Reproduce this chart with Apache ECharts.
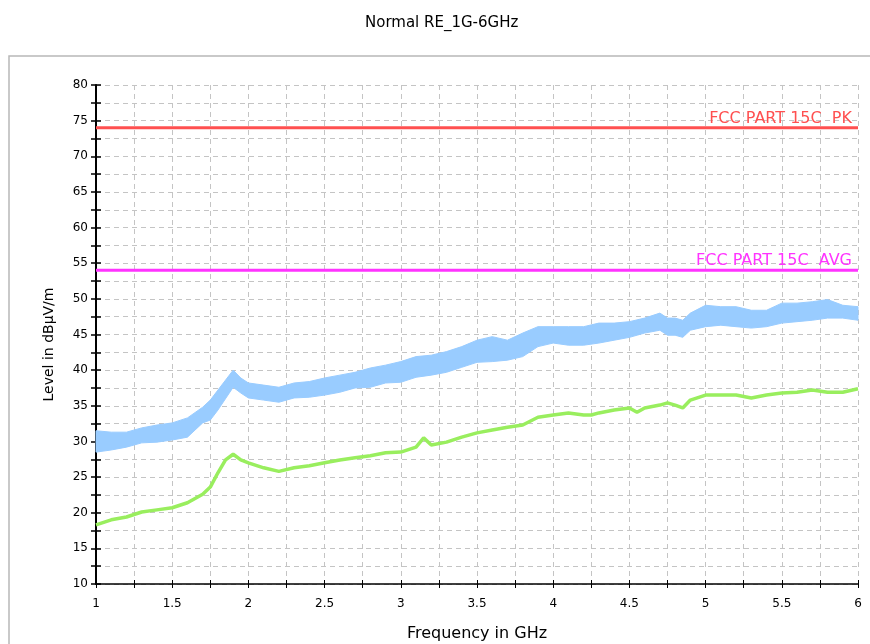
<!DOCTYPE html>
<html>
<head>
<meta charset="utf-8">
<script src="https://cdn.jsdelivr.net/npm/echarts@6/dist/echarts.min.js"></script>
<style>
  html, body { margin: 0; padding: 0; background: #fff; }
  #main { width: 870px; height: 644px; }
</style>
</head>
<body>
<div id="main"></div>
<script>
// peak trace (light blue) read as lower / upper edge of the noise band
var peakFreq = [1.0, 1.1, 1.2, 1.3, 1.4, 1.5, 1.6, 1.7, 1.75, 1.8, 1.9, 1.95, 2.0, 2.1, 2.2,
  2.3, 2.4, 2.5, 2.6, 2.7, 2.8, 2.9, 3.0, 3.1, 3.2, 3.3, 3.4, 3.5, 3.6, 3.7, 3.8, 3.9,
  4.0, 4.1, 4.2, 4.3, 4.4, 4.5, 4.6, 4.7, 4.75, 4.8, 4.85, 4.9, 5.0, 5.1, 5.2, 5.3,
  5.4, 5.5, 5.6, 5.7, 5.8, 5.9, 6.0];
var peakLow = [28.5, 28.8, 29.2, 29.8, 29.9, 30.2, 30.6, 32.6, 33.0, 34.4, 37.6, 36.8, 36.1, 35.8, 35.5,
  36.1, 36.2, 36.5, 36.9, 37.5, 37.6, 38.2, 38.3, 39.0, 39.3, 39.7, 40.4, 41.1, 41.2, 41.4, 41.9, 43.3,
  43.8, 43.5, 43.5, 43.8, 44.2, 44.6, 45.2, 45.6, 44.9, 44.9, 44.6, 45.6, 46.1, 46.3, 46.1, 45.9,
  46.1, 46.6, 46.8, 47.0, 47.3, 47.3, 47.0];
var peakHigh = [31.5, 31.3, 31.3, 31.9, 32.3, 32.6, 33.3, 34.8, 35.8, 37.2, 40.0, 38.9, 38.2, 37.9, 37.6,
  38.2, 38.4, 38.9, 39.3, 39.7, 40.3, 40.7, 41.2, 41.9, 42.1, 42.6, 43.3, 44.2, 44.7, 44.2, 45.2, 46.1,
  46.1, 46.1, 46.1, 46.6, 46.6, 46.8, 47.3, 48.0, 47.3, 47.3, 47.0, 48.0, 49.1, 48.9, 48.9, 48.4,
  48.4, 49.4, 49.4, 49.6, 49.9, 49.1, 48.9];

// average trace (green)
var avgFreq = [1.0, 1.1, 1.2, 1.3, 1.4, 1.5, 1.6, 1.7, 1.75, 1.8, 1.85, 1.9, 1.95, 2.0, 2.1, 2.2,
  2.3, 2.4, 2.5, 2.6, 2.7, 2.8, 2.9, 3.0, 3.1, 3.15, 3.2, 3.3, 3.4, 3.5, 3.6, 3.7, 3.8, 3.9,
  4.0, 4.1, 4.2, 4.25, 4.3, 4.4, 4.5, 4.55, 4.6, 4.7, 4.75, 4.8, 4.85, 4.9, 5.0, 5.1, 5.2,
  5.3, 5.4, 5.5, 5.6, 5.7, 5.8, 5.9, 6.0];
var avgLevel = [18.3, 19.0, 19.4, 20.1, 20.4, 20.7, 21.4, 22.6, 23.6, 25.6, 27.4, 28.2, 27.4, 27.0, 26.3, 25.8,
  26.3, 26.6, 27.0, 27.4, 27.7, 28.0, 28.4, 28.5, 29.2, 30.5, 29.5, 29.9, 30.6, 31.2, 31.6, 32.0, 32.3, 33.4,
  33.7, 34.0, 33.7, 33.7, 34.0, 34.4, 34.7, 34.1, 34.7, 35.1, 35.4, 35.1, 34.7, 35.8, 36.5, 36.5, 36.5,
  36.1, 36.5, 36.8, 36.9, 37.2, 36.9, 36.9, 37.4];

// limit lines
var limitNames = ['FCC PART 15C  PK', 'FCC PART 15C  AVG'];
var limitValues = [74, 54];
var limitColors = ['#ff5050', '#ff33ff'];

var yTicks = [10, 15, 20, 25, 30, 35, 40, 45, 50, 55, 60, 65, 70, 75, 80];
var xTicks = [1, 1.5, 2, 2.5, 3, 3.5, 4, 4.5, 5, 5.5, 6];

function pairs(xs, ys) {
  return xs.map(function (x, i) { return [x, ys[i]]; });
}

var font = 'DejaVu Sans, Liberation Sans, sans-serif';
var gridLine = { show: true, lineStyle: { color: '#c4c4c4', type: [5, 4], width: 1 } };

var chart = echarts.init(document.getElementById('main'));

chart.setOption({
  animation: false,
  backgroundColor: '#fff',
  title: {
    text: 'Normal RE_1G-6GHz',
    left: 360,
    top: 11,
    textStyle: { fontFamily: font, fontSize: 15, fontWeight: 'normal', color: '#000' }
  },
  graphic: [{
    type: 'rect',
    shape: { x: 9, y: 56, width: 880, height: 620 },
    style: { fill: null, stroke: '#b8b8b8', lineWidth: 1.5 },
    z: -1
  }],
  grid: { left: 96, right: 12, top: 85, bottom: 60, containLabel: false, outerBoundsMode: 'none' },
  xAxis: [{
    type: 'value',
    min: 1, max: 6, interval: 0.25,
    name: 'Frequency in GHz',
    nameLocation: 'middle',
    nameGap: 42,
    nameTextStyle: { fontFamily: font, fontSize: 16, color: '#000' },
    axisLine: { lineStyle: { color: '#000', width: 1.5 } },
    axisTick: { show: true, length: 4, lineStyle: { color: '#000' } },
    axisLabel: {
      margin: 14, fontFamily: font, fontSize: 12, color: '#000',
      formatter: function (v) { return xTicks.indexOf(v) >= 0 ? String(v) : ''; }
    },
    splitLine: gridLine
  }, {
    type: 'value', position: 'bottom',
    min: 1, max: 6, interval: 0.25,
    axisLine: { show: false },
    axisTick: { show: true, inside: true, length: 4, lineStyle: { color: '#000' } },
    axisLabel: { show: false },
    splitLine: { show: false }
  }],
  yAxis: [{
    type: 'value',
    min: 10, max: 80, interval: 2.5,
    name: 'Level in dBµV/m',
    nameLocation: 'middle',
    nameGap: 40,
    nameTextStyle: { fontFamily: font, fontSize: 14, color: '#000', padding: [0, 20, 0, 0] },
    axisLine: { show: true, lineStyle: { color: '#000', width: 2 } },
    axisTick: { show: true, length: 5, lineStyle: { color: '#000', width: 1.5 } },
    axisLabel: {
      margin: 8, fontFamily: font, fontSize: 12, color: '#000',
      formatter: function (v) { return yTicks.indexOf(v) >= 0 ? String(v) : ''; }
    },
    splitLine: gridLine
  }, {
    type: 'value', position: 'left',
    min: 10, max: 80, interval: 2.5,
    axisLine: { show: false },
    axisTick: { show: true, inside: true, length: 5, lineStyle: { color: '#000', width: 1.5 } },
    axisLabel: { show: false },
    splitLine: { show: false }
  }],
  series: [{
    name: 'peak',
    type: 'custom',
    coordinateSystem: 'cartesian2d',
    data: peakFreq.map(function (f, i) { return [f, peakLow[i], peakHigh[i]]; }),
    encode: { x: 0, y: [1, 2] },
    silent: true,
    z: 2,
    renderItem: function (params, api) {
      if (params.dataIndex !== 0) return;
      var pts = [];
      for (var i = 0; i < peakFreq.length; i++) pts.push(api.coord([peakFreq[i], peakHigh[i]]));
      for (var j = peakFreq.length - 1; j >= 0; j--) pts.push(api.coord([peakFreq[j], peakLow[j]]));
      return {
        type: 'polygon',
        shape: { points: pts },
        style: { fill: '#99ccff', stroke: '#99ccff', lineWidth: 1 }
      };
    }
  }, {
    name: 'average',
    type: 'line',
    data: pairs(avgFreq, avgLevel),
    symbol: 'none',
    lineStyle: { width: 3.5, color: '#99ee5e' },
    z: 3
  }].concat(limitValues.map(function (v, i) {
    return {
      name: limitNames[i],
      type: 'line',
      data: [[1, v], [6, v]],
      symbol: 'none',
      lineStyle: { width: 3, color: limitColors[i] },
      z: 4,
      markLine: {
        silent: true,
        symbol: 'none',
        lineStyle: { width: 1, color: 'rgba(0,0,0,0)' },
        label: {
          show: true,
          position: 'insideEndTop',
          distance: [6, 1],
          formatter: limitNames[i],
          fontFamily: font, fontSize: 16, color: limitColors[i]
        },
        data: [{ yAxis: v }]
      }
    };
  }))
});
</script>
</body>
</html>
